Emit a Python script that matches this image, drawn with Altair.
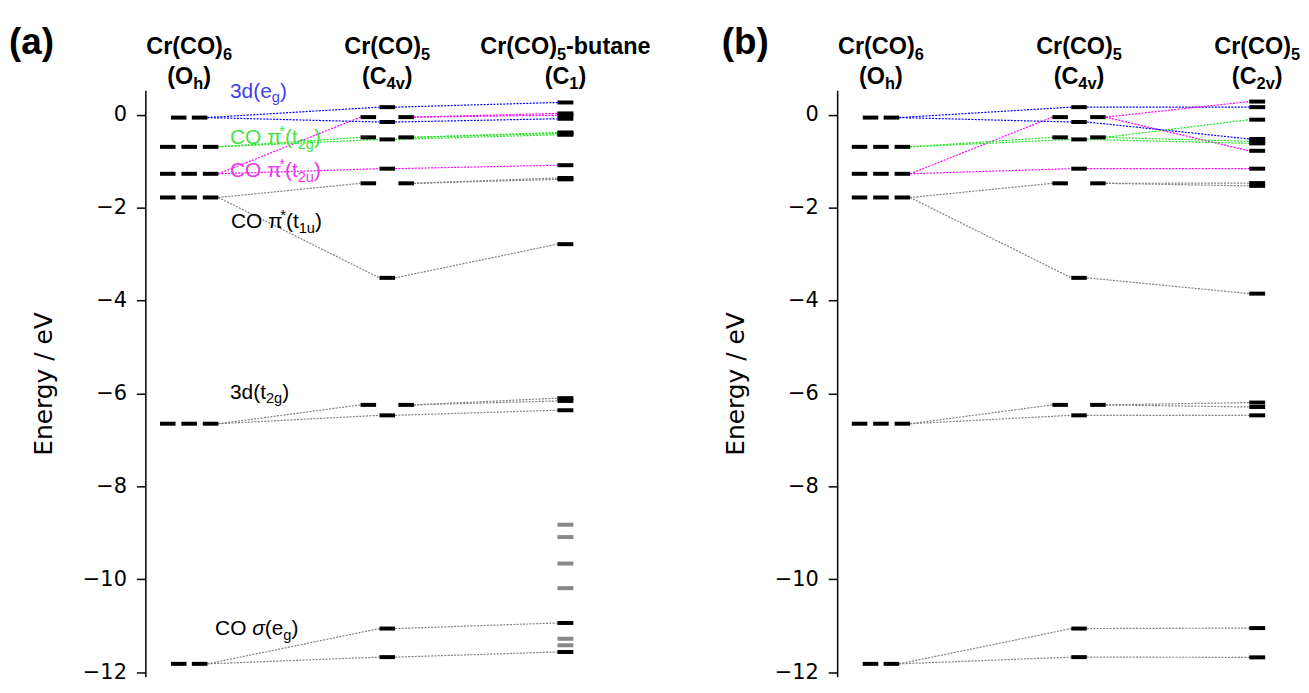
import altair as alt
import pandas as pd

# ------------------------------------------------------------------ data (eV)
# Cr(CO)6, Oh
oh_label = ["eg", "t2g_pi", "t2u", "t1u", "t2g_3d", "eg_sig"]
oh_energy = [-0.06, -0.69, -1.27, -1.78, -6.65, -11.82]
oh_degen = [2, 3, 3, 3, 3, 2]

# Cr(CO)5, C4v (same in both panels)
c4v_label = ["a1_eg", "e_t2u", "b1_eg", "e_t2g", "b2_t2g", "a1_t2u",
             "e_t1u", "a1_t1u", "e_3d", "b2_3d", "a1_sig", "b1_sig"]
c4v_parent = ["eg", "t2u", "eg", "t2g_pi", "t2g_pi", "t2u",
              "t1u", "t1u", "t2g_3d", "t2g_3d", "eg_sig", "eg_sig"]
c4v_energy = [0.165, -0.05, -0.155, -0.485, -0.53, -1.16,
              -1.475, -3.51, -6.245, -6.47, -11.06, -11.675]
c4v_degen = [1, 2, 1, 2, 1, 1, 2, 1, 2, 1, 1, 1]

# Cr(CO)5-butane, C1
c1_parent = ["a1_eg", "e_t2u", "e_t2u", "b1_eg", "e_t2g", "e_t2g", "b2_t2g",
             "a1_t2u", "e_t1u", "e_t1u", "a1_t1u", "e_3d", "e_3d", "b2_3d",
             "a1_sig", "b1_sig"]
c1_energy = [0.265, 0.03, -0.01, -0.085, -0.38, -0.40, -0.43,
             -1.085, -1.36, -1.39, -2.785, -6.10, -6.16, -6.36,
             -10.94, -11.565]
butane_energy = [-8.825, -9.09, -9.66, -10.19, -11.28, -11.42]

# Cr(CO)5, C2v
c2v_parent = ["a1_eg", "e_t2u", "e_t2u", "b1_eg", "e_t2g", "e_t2g", "b2_t2g",
              "a1_t2u", "e_t1u", "e_t1u", "a1_t1u", "e_3d", "e_3d", "b2_3d",
              "a1_sig", "b1_sig"]
c2v_energy = [0.165, 0.285, -0.775, -0.52, -0.105, -0.57, -0.615,
              -1.16, -1.47, -1.53, -3.85, -6.195, -6.29, -6.47,
              -11.05, -11.68]

y_ticks = [-12, -10, -8, -6, -4, -2, 0]

# ------------------------------------------------------------------ styles / layout
GROUP_COLOUR = {"eg": "#0000ff", "t2g_pi": "#1ee61e", "t2u": "#ff00ff",
                "t1u": "#808080", "t2g_3d": "#808080", "eg_sig": "#808080"}
LEVEL = "#000000"
LIGAND = "#888888"
BLUE_T, GREEN_T, MAG_T, BLACK_T = "#4040f0", "#48e048", "#e838e8", "#000000"

Y_TOP, Y_BOT = 0.53, -12.1
PX = 46.67                       # pixels per eV
W, H = 440, round((Y_TOP - Y_BOT) * PX, 1)
SPACING = 695 - W
COL_X = [44, 243, 422]
HALF = [7.8, 7.8, 8.0]
OH_SLOTS = {2: [-10.5, 10.5], 3: [-21.5, 0, 21.5]}
C4V_SLOTS = {1: [0], 2: [-19, 19]}


def above(px):
    """energy coordinate px pixels above the top of the plot area"""
    return Y_TOP + px / PX


REG_W = {' ': 278, '(': 333, ')': 333, '*': 389, '-': 333, 'C': 722, 'O': 778,
         'a': 556, 'b': 556, 'd': 556, 'e': 556, 'g': 556, 'h': 556, 'n': 556,
         'r': 333, 't': 278, 'u': 556, 'v': 500, 'π': 580, 'σ': 600}
BOLD_W = {' ': 278, '(': 333, ')': 333, '-': 333, 'C': 722, 'O': 778, 'a': 556,
          'b': 611, 'e': 556, 'h': 611, 'n': 611, 'r': 389, 't': 333, 'u': 611,
          'v': 556}


def text_width(s, size, bold):
    tab = BOLD_W if bold else REG_W
    return sum(tab.get(ch, 556) for ch in s) * size / 1000.0


def rich(parts, x, y, size, colour, bold=False, center=False):
    segs = []
    for t, k in parts:
        fs = size * 0.7 if k in ("_", "^") else size
        segs.append((t, k, fs, text_width(t, fs, bold)))
    total = sum(s[3] for s in segs)
    cx = x - total / 2 if center else x
    rows = []
    for t, k, fs, w in segs:
        dy = {"_": 0.32 * size, "^": -0.3 * size}.get(k, 0)
        style = "bold" if bold else ("ital" if k == "i" else "reg")
        rows.append(dict(x=cx, y=y - dy / PX, text=t, size=fs, c=colour, style=style))
        cx += w
    return rows


X = alt.X("x:Q", scale=alt.Scale(domain=[0, W], nice=False, zero=False), axis=None)
Y = alt.Y("y:Q", scale=alt.Scale(domain=[Y_BOT, Y_TOP], nice=False, zero=False),
          axis=alt.Axis(values=y_ticks, title="Energy / eV", grid=False,
                        domainColor="black", domainWidth=1.5, tickColor="black",
                        tickWidth=1.5, tickSize=9, labelFont="DejaVu Sans",
                        labelFontSize=21, labelColor="black", labelPadding=10,
                        titleFont="DejaVu Sans", titleFontSize=25,
                        titleFontWeight="normal", titleColor="black",
                        titlePadding=26))


def panel(tag, tag_x, c3_head, c3_sym, c3_parent, c3_energy, extra, notes):
    bars, lines = [], []
    oh_e = dict(zip(oh_label, oh_energy))
    oh_right = {}
    for name, e, d in zip(oh_label, oh_energy, oh_degen):
        for s in OH_SLOTS[d]:
            bars.append(dict(x=COL_X[0] + s - HALF[0], x2=COL_X[0] + s + HALF[0], y=e, c=LEVEL))
        oh_right[name] = COL_X[0] + OH_SLOTS[d][-1] + HALF[0]
    c4v_right = {}
    for name, par, e, d in zip(c4v_label, c4v_parent, c4v_energy, c4v_degen):
        sl = C4V_SLOTS[d]
        for s in sl:
            bars.append(dict(x=COL_X[1] + s - HALF[1], x2=COL_X[1] + s + HALF[1], y=e, c=LEVEL))
        lines.append(dict(x=oh_right[par], x2=COL_X[1] + sl[0] - HALF[1],
                          y=oh_e[par], y2=e, c=GROUP_COLOUR[par]))
        c4v_right[name] = (COL_X[1] + sl[-1] + HALF[1], e, par)
    for par, e in zip(c3_parent, c3_energy):
        bars.append(dict(x=COL_X[2] - HALF[2], x2=COL_X[2] + HALF[2], y=e, c=LEVEL))
        xr, e2, op = c4v_right[par]
        lines.append(dict(x=xr, x2=COL_X[2] - HALF[2], y=e2, y2=e, c=GROUP_COLOUR[op]))
    for e in extra:
        bars.append(dict(x=COL_X[2] - HALF[2], x2=COL_X[2] + HALF[2], y=e, c=LIGAND))

    texts = []
    texts += rich([(tag, "")], tag_x, above(47), 37, BLACK_T, bold=True)
    heads = [
        ([("Cr(CO)", ""), ("6", "_")], [("(O", ""), ("h", "_"), (")", "")]),
        ([("Cr(CO)", ""), ("5", "_")], [("(C", ""), ("4v", "_"), (")", "")]),
        (c3_head, c3_sym),
    ]
    for cx, (h1, h2) in zip(COL_X, heads):
        texts += rich(h1, cx, above(43), 23.5, BLACK_T, bold=True, center=True)
        texts += rich(h2, cx, above(13.5), 23.5, BLACK_T, bold=True, center=True)
    for parts, x, y, col in notes:
        texts += rich(parts, x, y, 21, col)

    ldf = pd.DataFrame(lines)
    bdf = pd.DataFrame(bars)
    tdf = pd.DataFrame(texts)
    col = alt.Color("c:N", scale=None)
    layers = [
        alt.Chart(ldf).mark_rule(strokeWidth=1.2, strokeDash=[2, 1.3]).encode(
            x=X, x2="x2:Q", y=Y, y2="y2:Q", color=col),
        alt.Chart(bdf).mark_rule(strokeWidth=4, strokeCap="butt").encode(
            x=X, x2="x2:Q", y=Y, color=col),
    ]
    for style, kw in [("reg", {}), ("ital", {"fontStyle": "italic"}),
                      ("bold", {"fontWeight": "bold"})]:
        sub = tdf[tdf["style"] == style]
        if len(sub):
            layers.append(alt.Chart(sub).mark_text(
                align="left", baseline="middle", font="Liberation Sans", **kw).encode(
                x=X, y=Y, text="text:N", size=alt.Size("size:Q", scale=None), color=col))
    return alt.layer(*layers).properties(width=W, height=H)


notes_a = [
    ([("3d(e", ""), ("g", "_"), (")", "")], 85, 0.50, BLUE_T),
    ([("CO ", ""), ("π", ""), ("*", "^"), ("(t", ""), ("2g", "_"), (")", "")], 85, -0.51, GREEN_T),
    ([("CO ", ""), ("π", ""), ("*", "^"), ("(t", ""), ("2u", "_"), (")", "")], 85, -1.21, MAG_T),
    ([("CO ", ""), ("π", ""), ("*", "^"), ("(t", ""), ("1u", "_"), (")", "")], 86, -2.31, BLACK_T),
    ([("3d(t", ""), ("2g", "_"), (")", "")], 85, -5.98, BLACK_T),
    ([("CO ", ""), ("σ", "i"), ("(e", ""), ("g", "_"), (")", "")], 70, -11.07, BLACK_T),
]

pa = panel("(a)", -137,
           [("Cr(CO)", ""), ("5", "_"), ("-butane", "")],
           [("(C", ""), ("1", "_"), (")", "")],
           c1_parent, c1_energy, butane_energy, notes_a)
pb = panel("(b)", -116,
           [("Cr(CO)", ""), ("5", "_")],
           [("(C", ""), ("2v", "_"), (")", "")],
           c2v_parent, c2v_energy, [], [])

chart = alt.hconcat(pa, pb, spacing=SPACING, bounds="flush").properties(
    padding={"left": 1, "top": 15, "right": 0, "bottom": 0}
).configure_view(stroke=None)

chart.save("out.html", embed_options={"renderer": "svg", "actions": False})
